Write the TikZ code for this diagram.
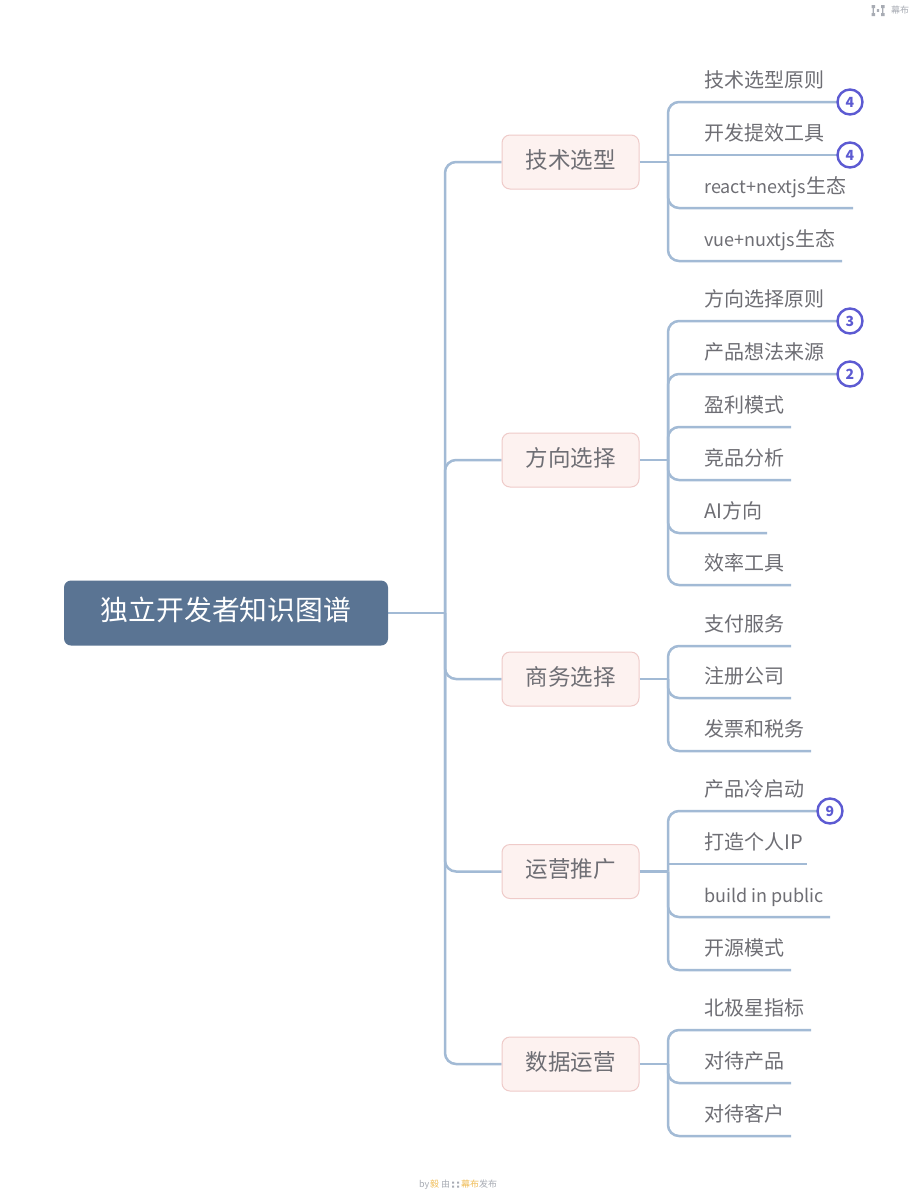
\documentclass[tikz,border=0pt]{standalone}
\usepackage{fontspec}
\setmainfont{Noto Sans CJK SC}
\usetikzlibrary{backgrounds}
\definecolor{conn}{HTML}{A2BAD5}
\definecolor{rootfill}{HTML}{5A7493}
\definecolor{branchfill}{HTML}{FDF2F0}
\definecolor{branchedge}{HTML}{EFCBC9}
\definecolor{inktext}{HTML}{6E6E74}
\definecolor{badge}{HTML}{5C5AD2}
\definecolor{gold}{HTML}{F0BE5A}
\definecolor{faint}{HTML}{A8ACB4}
\newcommand{\lat}[1]{{\fontsize{18}{24}\selectfont #1}}
\tikzset{
  x=1pt,y=-1pt,
  rootbox/.style={draw=none,fill=rootfill,rounded corners=7pt,minimum width=324pt,minimum height=65pt,text=white,font=\fontsize{27.8}{32}\selectfont,inner sep=0pt,text height=24pt,text depth=10pt},
  branchbox/.style={draw=branchedge,line width=1pt,fill=branchfill,rounded corners=8pt,minimum width=137pt,minimum height=54pt,text=inktext,font=\fontsize{22.5}{26}\selectfont,inner sep=0pt,text height=18pt,text depth=6pt},
  leaf/.style={anchor=west,text=inktext,font=\fontsize{20}{24}\selectfont,inner sep=0pt,text height=16pt,text depth=4pt},
  line/.style={draw=conn,line width=2.5pt,rounded corners=11pt},
  straight/.style={draw=conn,line width=2.5pt},
  count/.style={circle,draw=badge,line width=2.4pt,fill=white,minimum size=25pt,inner sep=0pt,text=badge,font=\fontsize{14}{16}\selectfont\bfseries},
  tiny/.style={inner sep=0pt,anchor=west,font=\fontsize{9}{10}\selectfont}
}
\begin{document}
\begin{tikzpicture}
\useasboundingbox (0,0) rectangle (916,1200);
\begin{pgfonlayer}{background}
  \fill[white] (0,0) rectangle (916,1200);
\end{pgfonlayer}

\node[rootbox] (root) at (226,613) {独立开发者知识图谱};
\coordinate (trunk) at (445,613);

\foreach \b/\y/\t in {b1/162/技术选型,b2/460/方向选择,b3/679/商务选择,b4/871.5/运营推广,b5/1064/数据运营}{
  \node[branchbox] (\b) at (570.5,\y) {\t};
  \coordinate (\b t) at (668,\y);
  \begin{pgfonlayer}{background}
    \draw[line] (trunk) |- (\b);
    \draw[straight] (\b) -- (\b t);
  \end{pgfonlayer}
}
\begin{pgfonlayer}{background}
  \draw[straight] (root) -- (trunk);
\end{pgfonlayer}

% leaves whose underline curves away from the branch's vertical
\foreach \b/\n/\y/\e/\t in {
  b1/a1/102/850/技术选型原则,
  b1/a3/208/853/\lat{react+nextjs}生态,
  b1/a4/261/842/\lat{vue+nuxtjs}生态,
  b2/c1/321/850/方向选择原则,
  b2/c2/374/850/产品想法来源,
  b2/c3/427/791/盈利模式,
  b2/c4/480/791/竞品分析,
  b2/c5/533/767/AI方向,
  b2/c6/585/791/效率工具,
  b3/d1/646/791/支付服务,
  b3/d2/698/791/注册公司,
  b3/d3/751/811/发票和税务,
  b4/e1/811/830/产品冷启动,
  b4/e3/917/830/\lat{build in public},
  b4/e4/970/791/开源模式,
  b5/f1/1030/811/北极星指标,
  b5/f2/1083/791/对待产品,
  b5/f3/1136/791/对待客户}{
  \node[leaf] (\n) at (704,\y-21) {\t};
  \coordinate (\n e) at (\e,\y);
  \begin{pgfonlayer}{background}
    \draw[line] (\b t) |- (\n e);
  \end{pgfonlayer}
}
% leaves whose underline meets the vertical straight on
\foreach \b/\n/\y/\e/\t in {
  b1/a2/155/850/开发提效工具,
  b4/e2/864/807/打造个人IP}{
  \node[leaf] (\n) at (704,\y-21) {\t};
  \coordinate (\n e) at (\e,\y);
  \begin{pgfonlayer}{background}
    \draw[straight] (\b t |- \n e) -- (\n e);
  \end{pgfonlayer}
}

\node[count] (n1) at (a1e) {4};
\node[count] (n2) at (a2e) {4};
\node[count] (n3) at (c1e) {3};
\node[count] (n4) at (c2e) {2};
\node[count] (n5) at (e1e) {9};

% top-right mark
\fill[faint] (871.5,5) rectangle (875,8) (871.5,13) rectangle (875,16) (881,5) rectangle (884.5,8) (881,13) rectangle (884.5,16) (876.8,9.2) rectangle (879.2,11.8);
\fill[faint] (872.7,8) rectangle (873.8,13) (882.2,8) rectangle (883.3,13);
\node[tiny,text=faint] (mark) at (891,10.5) {幕布};

% footer
\node[tiny,text=faint] (by) at (419,1184.5) {by};
\node[tiny,text=gold] (au) at (430,1184.5) {毅};
\node[tiny,text=faint] (you) at (441,1184.5) {由};
\fill[faint] (452,1181.5) rectangle (454,1183.5) (452,1185.5) rectangle (454,1187.5) (457,1181.5) rectangle (459,1183.5) (457,1185.5) rectangle (459,1187.5);
\node[tiny,text=gold] (mb) at (461,1184.5) {幕布};
\node[tiny,text=faint] (fb) at (479,1184.5) {发布};
\end{tikzpicture}
\end{document}
